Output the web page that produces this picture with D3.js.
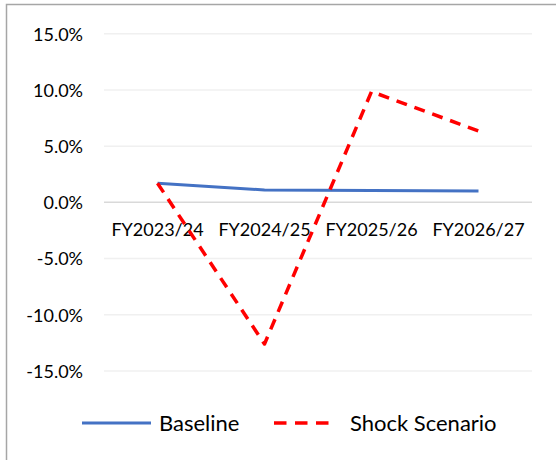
<!DOCTYPE html>
<html><head><meta charset="utf-8">
<script src="https://cdn.jsdelivr.net/npm/d3@7"></script>
<style>body{margin:0;background:#fff}svg{display:block}</style>
</head><body>
<script>
const categories = ["FY2023/24","FY2024/25","FY2025/26","FY2026/27"];
const baseline = [1.7, 1.1, 1.05, 1.0];
const shock = [1.7, -12.6, 9.85, 6.35];
const yTicks = [-15, -10, -5, 0, 5, 10, 15];
const seriesNames = ["Baseline", "Shock Scenario"];

const W = 556, H = 460;
const font = "Lato, 'Open Sans', sans-serif";
const svg = d3.select("body").append("svg").attr("width", W).attr("height", H);

svg.append("rect").attr("x", 6.5).attr("y", 4.5).attr("width", 600).attr("height", 500)
  .attr("fill", "#fff").attr("stroke", "#a6a6a6").attr("stroke-width", 1.5);

const x = d3.scaleBand().domain(categories).range([104, 532]);
const y = d3.scaleLinear().domain([-15, 15]).range([371, 33.7]);

// gridlines
svg.append("g").selectAll("line").data(yTicks).join("line")
  .attr("x1", 104).attr("x2", 532)
  .attr("y1", d => y(d)).attr("y2", d => y(d))
  .attr("stroke", d => d === 0 ? "#d9d9d9" : "#f0f0f0").attr("stroke-width", 1.5);

// y axis labels
const yAxis = d3.axisLeft(y).tickValues(yTicks).tickSize(0).tickPadding(0)
  .tickFormat(d => d.toFixed(1) + "%");
const gy = svg.append("g").attr("transform", "translate(83,0)").call(yAxis);
gy.select(".domain").remove();
gy.selectAll("text").attr("font-family", font).attr("font-size", 18).attr("fill", "#000")
  .attr("text-anchor", "end").attr("dy", "0.35em").attr("x", 0);

// x axis labels at 0 line
const xAxis = d3.axisBottom(x).tickSize(0).tickPadding(0);
const gx = svg.append("g").attr("transform", `translate(0,${y(0)})`).call(xAxis);
gx.select(".domain").remove();
gx.selectAll("text").attr("font-family", font).attr("font-size", 18).attr("fill", "#000")
  .attr("dy", "0").attr("y", 34);

const cx = d => x(d) + x.bandwidth() / 2;
const line = d3.line().x((d, i) => cx(categories[i])).y(d => y(d));

svg.append("path").datum(baseline).attr("d", line).attr("fill", "none")
  .attr("stroke", "#4472C4").attr("stroke-width", 3).attr("stroke-linejoin", "round");
svg.append("path").datum(shock).attr("d", line).attr("fill", "none")
  .attr("stroke", "#FF0000").attr("stroke-width", 3.5).attr("stroke-dasharray", "11,8")
  .attr("stroke-linejoin", "round");

// legend
const lg = svg.append("g");
lg.append("line").attr("x1", 82).attr("x2", 151).attr("y1", 423).attr("y2", 423)
  .attr("stroke", "#4472C4").attr("stroke-width", 3);
lg.append("text").attr("x", 159).attr("y", 423).attr("dy", "0.35em").text(seriesNames[0])
  .attr("font-family", font).attr("font-size", 22).attr("fill", "#000");
lg.append("line").attr("x1", 274).attr("x2", 334).attr("y1", 423).attr("y2", 423)
  .attr("stroke", "#FF0000").attr("stroke-width", 3.5).attr("stroke-dasharray", "12.5,8.5");
lg.append("text").attr("x", 350).attr("y", 423).attr("dy", "0.35em").text(seriesNames[1])
  .attr("font-family", font).attr("font-size", 22).attr("fill", "#000");
</script>
</body></html>
